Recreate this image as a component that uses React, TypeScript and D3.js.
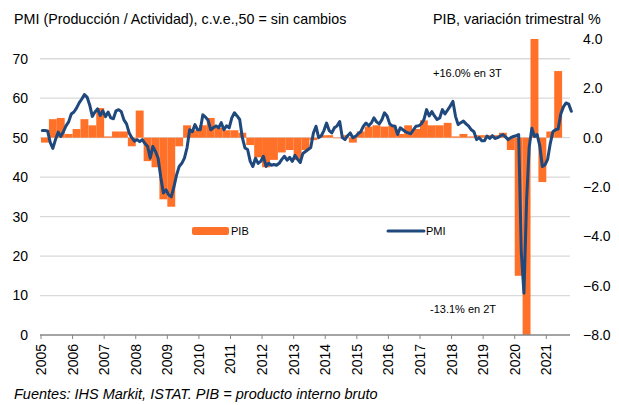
import * as d3 from 'd3';

const W = 619;
const H = 405;

// x tick labels (years)
const yearLabels = ['2005', '2006', '2007', '2008', '2009', '2010', '2011', '2012', '2013', '2014', '2015', '2016', '2017', '2018', '2019', '2020', '2021'];

// PIB, variación trimestral % (2005 T1 .. 2021 T2)
const pib = [
  -0.2, 0.75, 0.8, 0.15, // 2005
  0.35, 0.75, 0.5, 1.2, // 2006
  0.05, 0.25, 0.25, -0.35, // 2007
  1.1, -0.95, -1.2, -2.5, // 2008
  -2.8, -0.35, 0.5, 0.3, // 2009
  0.5, 0.8, 0.4, 0.3, // 2010
  0.3, 0.2, -0.3, -0.8, // 2011
  -1.2, -0.9, -0.6, -0.5, // 2012
  -0.9, -0.5, -0.1, 0.1, // 2013
  0.1, 0.0, 0.1, -0.2, // 2014
  0.25, 0.45, 0.5, 0.45, // 2015
  0.5, 0.15, 0.5, 0.35, // 2016
  0.7, 0.5, 0.5, 0.6, // 2017
  0.05, 0.15, 0.05, 0.1, // 2018
  0.1, 0.1, 0.2, -0.5, // 2019
  -5.6, -13.1, 16.0, -1.8, // 2020
  0.25, 2.7, // 2021
];

// PMI producción / actividad, mensual (ene 2005 .. oct 2021)
const pmi = [
  51.8, 51.8, 51.7, 48.8, 47.3, 49.5, 51.4, 50.3, 51.5, 53.0, 54.0, 56.0, // 2005
  56.5, 57.5, 58.8, 59.8, 60.9, 60.3, 58.3, 55.4, 56.5, 57.3, 55.6, 56.8, // 2006
  55.3, 56.5, 55.0, 54.8, 56.8, 57.1, 56.6, 54.5, 53.5, 51.2, 50.0, 49.1, // 2007
  49.5, 49.0, 49.5, 48.5, 47.8, 44.8, 47.8, 46.5, 44.8, 40.0, 36.0, 36.8, // 2008
  35.5, 35.0, 37.5, 40.5, 42.7, 43.5, 44.8, 47.5, 52.0, 51.5, 53.3, 52.0, // 2009
  52.0, 55.8, 55.2, 54.4, 52.0, 52.5, 53.0, 52.5, 53.8, 52.0, 53.0, 52.5, // 2010
  55.0, 56.3, 55.5, 54.6, 50.0, 47.4, 47.0, 44.0, 42.7, 44.8, 43.5, 44.0, // 2011
  45.3, 42.7, 43.5, 43.0, 43.2, 43.0, 43.5, 44.5, 45.3, 44.3, 45.0, 44.0, // 2012
  45.5, 44.5, 43.7, 46.0, 46.5, 47.0, 47.5, 51.2, 52.9, 50.0, 50.5, 51.8, // 2013
  53.7, 51.8, 51.2, 52.5, 53.0, 54.1, 50.0, 49.5, 50.5, 51.2, 50.0, 50.3, // 2014
  51.0, 51.5, 52.9, 53.7, 53.0, 53.7, 55.0, 54.0, 53.5, 54.5, 56.3, 55.5, // 2015
  53.5, 53.0, 52.9, 50.8, 52.5, 52.0, 51.5, 51.2, 51.0, 52.0, 52.9, 53.0, // 2016
  53.5, 54.6, 57.1, 55.5, 56.6, 55.5, 54.6, 55.0, 57.1, 56.0, 57.0, 58.0, // 2017
  59.2, 55.4, 53.3, 53.8, 54.2, 53.5, 52.9, 52.0, 51.5, 49.5, 50.0, 49.2, // 2018
  49.2, 50.4, 49.8, 50.5, 49.8, 50.0, 50.4, 50.8, 50.2, 49.5, 50.0, 50.3, // 2019
  50.5, 50.8, 21.0, 10.6, 34.0, 47.6, 52.4, 50.3, 50.8, 48.0, 42.7, 43.1, // 2020
  44.5, 48.5, 51.5, 52.0, 52.2, 56.0, 57.8, 58.8, 58.5, 56.7, // 2021
];

const pmiTicks = [0, 10, 20, 30, 40, 50, 60, 70];
const pibTicks = [4, 2, 0, -2, -4, -6, -8];

const ORANGE = '#FF7028';
const BLUE = '#1F487C';
const FONT = '"Liberation Sans", Arial, sans-serif';

export default function App() {
  const plot = { left: 40, right: 570, top: 39, bottom: 335 };

  const x = d3.scaleLinear().domain([2005, 2021.75]).range([41, 570]);
  const yL = d3.scaleLinear().domain([0, 75]).range([plot.bottom, plot.top]);
  const yR = d3.scaleLinear().domain([-8, 4]).range([plot.bottom, plot.top]);

  const pmiPoints = pmi.map((v, i) => [2005 + (i + 0.5) / 12, v] as [number, number]);
  const line = d3.line<[number, number]>()
    .x(d => x(d[0]))
    .y(d => yL(d[1]));

  return (
    <svg width={W} height={H} style={{ position: 'absolute', left: 0, top: 0, background: '#fff' }} fontFamily={FONT}>
      <defs>
        <clipPath id="plotClip">
          <rect x={plot.left} y={plot.top} width={plot.right - plot.left} height={plot.bottom - plot.top} />
        </clipPath>
      </defs>

      {/* titles */}
      <text x={14} y={24} fontSize={14.3} fill="#000">PMI (Producción / Actividad), c.v.e.,50 = sin cambios</text>
      <text x={433} y={24} fontSize={14.3} fill="#000">PIB, variación trimestral %</text>

      {/* gridlines */}
      {pmiTicks.filter(t => t > 0).map(t => (
        <line key={t} x1={plot.left} x2={plot.right} y1={yL(t)} y2={yL(t)} stroke="#D9D9D9" strokeWidth={1.3} />
      ))}

      {/* PIB bars */}
      <g clipPath="url(#plotClip)">
        {pib.map((v, i) => {
          const t = 2005 + i / 4;
          const x0 = x(t);
          const x1 = x(t + 0.25);
          const y0 = yR(Math.max(v, 0));
          const y1 = yR(Math.min(v, 0));
          return <rect key={i} x={x0} y={y0} width={x1 - x0} height={Math.max(y1 - y0, 0.6)} fill={ORANGE} />;
        })}
      </g>

      {/* x axis */}
      <line x1={plot.left} x2={plot.right} y1={plot.bottom} y2={plot.bottom} stroke="#868686" strokeWidth={1.3} />
      {yearLabels.map(lab => {
        const xp = x(+lab);
        return (
          <g key={lab}>
            <line x1={xp} x2={xp} y1={plot.bottom} y2={plot.bottom + 4} stroke="#868686" strokeWidth={1} />
            <text transform={`translate(${xp + 5},${plot.bottom + 9}) rotate(-90)`} textAnchor="end" fontSize={14} fill="#000">{lab}</text>
          </g>
        );
      })}

      {/* left axis labels */}
      {pmiTicks.map(t => (
        <text key={t} x={28} y={yL(t)} dy="0.35em" textAnchor="end" fontSize={14} fill="#000">{t}</text>
      ))}

      {/* right axis labels */}
      {pibTicks.map(t => (
        <text key={t} x={583} y={yR(t)} dy="0.35em" textAnchor="start" fontSize={14} fill="#000">{d3.format('.1f')(t)}</text>
      ))}

      {/* PMI line */}
      <path d={line(pmiPoints) || ''} fill="none" stroke={BLUE} strokeWidth={3} strokeLinejoin="round" strokeLinecap="round" />

      {/* annotations */}
      <text x={433} y={77} fontSize={11} fill="#000">+16.0% en 3T</text>
      <text x={430} y={313} fontSize={11} fill="#000">-13.1% en 2T</text>

      {/* legend */}
      <rect x={192} y={227} width={37} height={8} rx={2} fill={ORANGE} />
      <text x={231} y={235} fontSize={11} fill="#000">PIB</text>
      <line x1={388} x2={424} y1={231} y2={231} stroke={BLUE} strokeWidth={3} strokeLinecap="round" />
      <text x={426} y={235} fontSize={11} fill="#000">PMI</text>

      {/* source */}
      <text x={14} y={399} fontSize={14.5} fontStyle="italic" fill="#000">Fuentes: IHS Markit, ISTAT. PIB = producto interno bruto</text>
    </svg>
  );
}
